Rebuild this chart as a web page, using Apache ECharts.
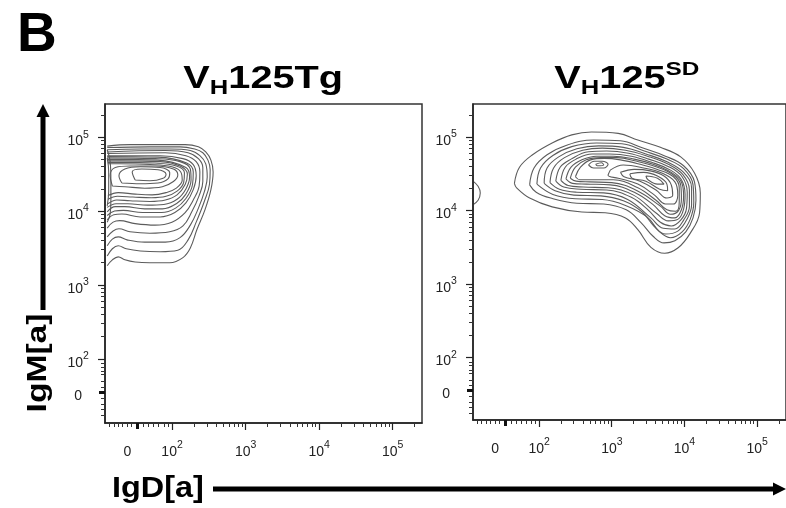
<!DOCTYPE html>
<html>
<head>
<meta charset="utf-8">
<script src="https://cdn.jsdelivr.net/npm/echarts@6/dist/echarts.min.js"></script>
<style>
  html, body { margin: 0; padding: 0; background: #fff; }
  #chart { width: 786px; height: 508px; }
</style>
</head>
<body>
<div id="chart"></div>
<script>
// axis values are in display decades (biexponential-like scale), "0" sits near 1.53
const xRange = [1.09, 5.40]
const yRangeLeft = [1.13, 5.45]
const yRangeRight = [1.15, 5.45]
const xMajorTicks = [1.53, 2, 3, 4, 5]
const yMajorTicks = [1.55, 2, 3, 4, 5]
const majorLabels = ['0', '10^2', '10^3', '10^4', '10^5']
const logDecades = [2, 3, 4, 5]
const xNearZeroTicks = [1.15, 1.21, 1.27, 1.33, 1.39, 1.45, 1.61, 1.68, 1.75, 1.82, 1.89, 1.95]
const yNearZeroTicks = [1.24, 1.32, 1.39, 1.47, 1.62, 1.69, 1.79, 1.83, 1.89, 1.94]

// VH125Tg contours (IgD, IgM)
const tg1 = [[1.12,3.26],[1.19,3.34],[1.27,3.38],[1.36,3.34],[1.50,3.31],[1.70,3.30],[1.97,3.30],[2.15,3.37],[2.25,3.50],[2.34,3.75],[2.45,4.02],[2.53,4.29],[2.56,4.53],[2.53,4.69],[2.46,4.80],[2.36,4.87],[2.18,4.90],[1.84,4.90],[1.43,4.90],[1.12,4.88]]
const tg2 = [[1.12,3.39],[1.19,3.49],[1.27,3.53],[1.38,3.49],[1.57,3.46],[1.84,3.45],[2.08,3.47],[2.22,3.61],[2.33,3.85],[2.44,4.13],[2.51,4.36],[2.52,4.56],[2.49,4.69],[2.42,4.79],[2.31,4.84],[2.11,4.87],[1.70,4.87],[1.12,4.86]]
const tg3 = [[1.12,3.53],[1.19,3.62],[1.27,3.65],[1.39,3.61],[1.63,3.58],[1.91,3.58],[2.11,3.64],[2.25,3.81],[2.36,4.04],[2.44,4.26],[2.48,4.46],[2.46,4.64],[2.38,4.75],[2.25,4.82],[1.97,4.84],[1.57,4.84],[1.12,4.83]]
const tg4 = [[1.12,3.65],[1.20,3.73],[1.28,3.76],[1.43,3.72],[1.70,3.70],[1.97,3.72],[2.15,3.80],[2.27,3.99],[2.37,4.21],[2.42,4.40],[2.42,4.59],[2.36,4.71],[2.22,4.79],[1.91,4.82],[1.12,4.80]]
const tg5 = [[1.12,3.77],[1.20,3.85],[1.29,3.87],[1.50,3.83],[1.77,3.81],[2.00,3.85],[2.18,3.98],[2.29,4.15],[2.37,4.34],[2.38,4.53],[2.33,4.67],[2.19,4.75],[1.91,4.79],[1.12,4.78]]
const tg6 = [[1.12,3.88],[1.21,3.95],[1.32,3.96],[1.57,3.92],[1.84,3.92],[2.04,3.98],[2.19,4.11],[2.29,4.29],[2.33,4.48],[2.29,4.63],[2.15,4.71],[1.84,4.75],[1.12,4.75]]
const tg6b = [[1.12,3.94],[1.22,4.00],[1.34,4.01],[1.60,3.98],[1.86,3.98],[2.05,4.04],[2.19,4.17],[2.28,4.36],[2.29,4.53],[2.20,4.65],[1.81,4.73],[1.12,4.74]]
const tg7 = [[1.12,3.99],[1.23,4.06],[1.36,4.06],[1.63,4.03],[1.87,4.03],[2.06,4.10],[2.19,4.23],[2.26,4.42],[2.25,4.57],[2.11,4.67],[1.77,4.71],[1.12,4.72]]
const tg7b = [[1.12,4.05],[1.24,4.10],[1.40,4.10],[1.67,4.08],[1.89,4.09],[2.07,4.16],[2.19,4.30],[2.24,4.46],[2.19,4.59],[1.81,4.69],[1.20,4.70],[1.12,4.70]]
const tg8 = [[1.13,4.10],[1.25,4.15],[1.43,4.14],[1.70,4.13],[1.91,4.15],[2.07,4.22],[2.18,4.36],[2.21,4.50],[2.11,4.61],[1.84,4.67],[1.29,4.68],[1.13,4.68]]
const tg8b = [[1.13,4.16],[1.26,4.20],[1.47,4.19],[1.72,4.18],[1.92,4.20],[2.07,4.27],[2.16,4.39],[2.17,4.52],[2.06,4.61],[1.77,4.65],[1.29,4.66],[1.13,4.66]]
const tg9 = [[1.13,4.21],[1.27,4.25],[1.50,4.23],[1.73,4.22],[1.92,4.25],[2.06,4.31],[2.14,4.42],[2.12,4.53],[2.00,4.60],[1.70,4.63],[1.29,4.64],[1.13,4.64]]
const tg10 = [[1.19,4.34],[1.36,4.33],[1.63,4.31],[1.87,4.33],[2.02,4.40],[2.08,4.49],[2.02,4.57],[1.77,4.61],[1.43,4.61],[1.23,4.59],[1.16,4.48],[1.19,4.34]]
const tg11 = [[1.32,4.38],[1.57,4.37],[1.81,4.38],[1.95,4.44],[1.97,4.52],[1.84,4.59],[1.57,4.60],[1.36,4.57],[1.28,4.48],[1.32,4.38]]
const tg12 = [[1.50,4.42],[1.70,4.41],[1.87,4.44],[1.92,4.50],[1.81,4.56],[1.59,4.57],[1.46,4.53],[1.50,4.42]]
const tgEdge1 = [[1.12,4.83],[1.16,4.67],[1.17,4.42],[1.17,4.15],[1.16,3.96],[1.12,3.85]]
const tgEdge2 = [[1.12,4.72],[1.14,4.53],[1.14,4.26],[1.12,4.07]]

// VH125SD contours
const sd1 = [[1.66,4.37],[1.73,4.59],[1.91,4.76],[2.18,4.92],[2.45,5.03],[2.72,5.07],[3.09,5.05],[3.36,4.96],[3.67,4.86],[3.95,4.73],[4.14,4.51],[4.22,4.24],[4.21,3.97],[4.08,3.69],[3.91,3.49],[3.73,3.42],[3.54,3.50],[3.36,3.74],[3.19,3.90],[2.91,3.97],[2.59,3.98],[2.18,4.05],[1.87,4.17],[1.69,4.31],[1.66,4.37]]
const sd2 = [[1.87,4.35],[1.93,4.58],[2.11,4.76],[2.38,4.89],[2.75,4.96],[3.12,4.95],[3.43,4.85],[3.74,4.74],[3.99,4.61],[4.14,4.39],[4.16,4.14],[4.12,3.90],[4.02,3.71],[3.87,3.59],[3.72,3.56],[3.57,3.65],[3.40,3.84],[3.20,4.01],[2.89,4.09],[2.52,4.10],[2.16,4.17],[1.96,4.25],[1.87,4.35]]
const sd2b = [[1.97,4.36],[2.02,4.58],[2.19,4.75],[2.45,4.87],[2.79,4.92],[3.14,4.91],[3.45,4.81],[3.76,4.70],[3.99,4.57],[4.12,4.35],[4.13,4.11],[4.08,3.88],[3.97,3.71],[3.81,3.63],[3.65,3.72],[3.49,3.91],[3.19,4.07],[2.87,4.15],[2.50,4.16],[2.19,4.22],[1.97,4.36]]
const sd3 = [[2.07,4.37],[2.11,4.58],[2.27,4.73],[2.52,4.84],[2.82,4.88],[3.16,4.86],[3.47,4.77],[3.77,4.66],[3.99,4.52],[4.10,4.31],[4.10,4.08],[4.03,3.87],[3.91,3.72],[3.74,3.68],[3.58,3.79],[3.42,3.98],[3.17,4.13],[2.85,4.20],[2.48,4.21],[2.22,4.27],[2.07,4.37]]
const sd3b = [[2.15,4.38],[2.20,4.58],[2.35,4.72],[2.60,4.82],[2.87,4.85],[3.19,4.82],[3.49,4.74],[3.78,4.63],[3.98,4.49],[4.07,4.28],[4.07,4.06],[3.99,3.87],[3.87,3.75],[3.71,3.76],[3.54,3.90],[3.22,4.15],[2.89,4.24],[2.52,4.25],[2.28,4.29],[2.15,4.38]]
const sd4 = [[2.23,4.40],[2.29,4.59],[2.44,4.70],[2.68,4.80],[2.93,4.81],[3.23,4.78],[3.51,4.70],[3.80,4.59],[3.97,4.46],[4.04,4.25],[4.03,4.03],[3.95,3.87],[3.82,3.79],[3.67,3.84],[3.50,4.01],[3.27,4.18],[2.93,4.28],[2.57,4.29],[2.34,4.32],[2.23,4.40]]
const sd4b = [[2.30,4.41],[2.36,4.59],[2.51,4.70],[2.73,4.77],[2.97,4.77],[3.27,4.74],[3.54,4.66],[3.81,4.55],[3.96,4.42],[4.01,4.22],[3.99,4.02],[3.91,3.88],[3.78,3.86],[3.62,3.96],[3.30,4.21],[2.95,4.31],[2.61,4.32],[2.40,4.34],[2.30,4.41]]
const sd5 = [[2.37,4.43],[2.44,4.59],[2.59,4.69],[2.79,4.74],[3.02,4.74],[3.31,4.70],[3.57,4.63],[3.82,4.52],[3.96,4.39],[3.99,4.20],[3.96,4.01],[3.87,3.90],[3.73,3.93],[3.57,4.08],[3.33,4.24],[2.98,4.35],[2.65,4.36],[2.46,4.37],[2.37,4.43]]
const sd5b = [[2.43,4.44],[2.50,4.59],[2.65,4.69],[2.85,4.72],[3.07,4.72],[3.35,4.67],[3.60,4.60],[3.84,4.49],[3.95,4.35],[3.96,4.16],[3.92,4.00],[3.81,3.95],[3.67,4.06],[3.35,4.27],[3.00,4.38],[2.70,4.39],[2.51,4.40],[2.43,4.44]]
const sd6 = [[2.50,4.46],[2.57,4.59],[2.71,4.69],[2.90,4.71],[3.12,4.69],[3.39,4.63],[3.63,4.56],[3.85,4.46],[3.93,4.31],[3.93,4.12],[3.88,3.99],[3.76,4.01],[3.61,4.14],[3.36,4.31],[3.02,4.42],[2.74,4.42],[2.56,4.42],[2.50,4.46]]
const sdA1 = [[2.68,4.62],[2.76,4.67],[2.87,4.67],[2.95,4.63],[2.89,4.58],[2.75,4.58],[2.68,4.62]]
const sdA2 = [[2.78,4.63],[2.86,4.65],[2.89,4.62],[2.80,4.61],[2.78,4.63]]
const sdB1 = [[2.98,4.55],[3.16,4.62],[3.44,4.58],[3.69,4.51],[3.87,4.39],[3.91,4.21],[3.85,4.09],[3.74,4.09],[3.59,4.21],[3.36,4.36],[3.09,4.44],[2.95,4.48],[2.98,4.55]]
const sdB2 = [[3.12,4.52],[3.31,4.56],[3.53,4.54],[3.72,4.47],[3.82,4.35],[3.84,4.21],[3.76,4.17],[3.61,4.28],[3.39,4.40],[3.17,4.46],[3.12,4.52]]
const sdB3 = [[3.25,4.50],[3.44,4.52],[3.63,4.47],[3.76,4.36],[3.77,4.27],[3.66,4.29],[3.47,4.40],[3.28,4.44],[3.25,4.50]]
const sdB4 = [[3.47,4.47],[3.63,4.44],[3.72,4.36],[3.63,4.36],[3.50,4.42],[3.47,4.47]]
const sdEdge = [[1.09,4.40],[1.16,4.33],[1.19,4.24],[1.16,4.14],[1.09,4.08]]

const tgContours = [tg1, tg2, tg3, tg4, tg5, tg6, tg6b, tg7, tg7b, tg8, tg8b, tg9, tg10, tg11, tg12, tgEdge1, tgEdge2]
const sdContours = [sd1, sd2, sd2b, sd3, sd3b, sd4, sd4b, sd5, sd5b, sd6, sdA1, sdA2, sdB1, sdB2, sdB3, sdB4, sdEdge]

const fontName = '"Liberation Sans", Arial, sans-serif'

function logMinorTicks(max) {
  const out = []
  logDecades.forEach((n) => {
    for (let k = 2; k <= 9; k++) {
      const u = n + Math.log10(k)
      if (u < max) out.push(u)
    }
  })
  return out
}

function labelText(major, v) {
  const i = major.findIndex((m) => Math.abs(m - v) < 1e-6)
  const t = majorLabels[i] || ''
  if (t.indexOf('^') > 0) {
    const p = t.split('^')
    return '{sp| }{b|' + p[0] + '}{s|' + p[1] + '}'
  }
  return '{sp| }{z|' + t + '}'
}

function richLabel(zeroShift) {
  return {
    sp: { fontSize: 1, lineHeight: 19 },
    b: { fontSize: 14, lineHeight: 12, verticalAlign: 'bottom', color: '#222', fontFamily: fontName },
    s: { fontSize: 10.5, lineHeight: 10, verticalAlign: 'top', color: '#222', fontFamily: fontName },
    z: { fontSize: 14, lineHeight: 12, verticalAlign: 'bottom', color: '#222', fontFamily: fontName, padding: [0, zeroShift, 0, 0] }
  }
}

// three stacked axes per side: major ticks + labels, minor ticks, bold zero tick
function makeAxes(dim, gridIndex, range, major, nearZero) {
  const isX = dim === 'x'
  const base = {
    gridIndex: gridIndex,
    type: 'value',
    min: range[0],
    max: range[1],
    position: isX ? 'bottom' : 'left',
    splitLine: { show: false },
    z: 5
  }
  const minor = logMinorTicks(range[1]).concat(nearZero)
  return [
    Object.assign({}, base, {
      axisLine: { show: true, onZero: false, lineStyle: { color: '#222', width: 1.5 } },
      axisTick: { show: true, customValues: major.slice(1), length: 7, lineStyle: { color: '#222', width: 1.2 } },
      axisLabel: {
        show: true,
        customValues: major,
        margin: isX ? 17 : 27,
        align: 'center',
        padding: isX ? 0 : [3, 0, 0, 0],
        formatter: (v) => labelText(major, v),
        rich: richLabel(isX ? 20 : 0)
      }
    }),
    Object.assign({}, base, {
      axisLine: { show: false },
      axisTick: { show: true, customValues: minor, length: 4, lineStyle: { color: '#333', width: 1 } },
      axisLabel: { show: false }
    }),
    Object.assign({}, base, {
      axisLine: { show: false },
      axisTick: { show: true, customValues: [major[0]], length: 6, lineStyle: { color: '#111', width: 3 } },
      axisLabel: { show: false }
    })
  ]
}

function contourSeries(list, axisIndex) {
  return list.map((c) => ({
    type: 'line',
    xAxisIndex: axisIndex,
    yAxisIndex: axisIndex,
    data: c,
    smooth: 0.4,
    symbol: 'none',
    silent: true,
    lineStyle: { color: '#5c5c5c', width: 1.1 }
  }))
}

const titleRich = {
  sp: { fontSize: 1, lineHeight: 38 },
  a: { fontSize: 31, fontWeight: 'bold', lineHeight: 26, verticalAlign: 'middle', fontFamily: fontName, color: '#000' },
  h: { fontSize: 20, fontWeight: 'bold', lineHeight: 18, verticalAlign: 'bottom', fontFamily: fontName, color: '#000' },
  u: { fontSize: 19, fontWeight: 'bold', lineHeight: 18, verticalAlign: 'top', fontFamily: fontName, color: '#000' }
}

const myChart = echarts.init(document.getElementById('chart'), null, { renderer: 'canvas' })
const option = {
  animation: false,
  backgroundColor: '#fff',
  grid: [
    { left: 105, top: 104, width: 317, height: 319, show: true, borderColor: '#333', borderWidth: 1.5, backgroundColor: 'transparent' },
    { left: 473, top: 104, width: 317, height: 316, show: true, borderColor: '#333', borderWidth: 1.5, backgroundColor: 'transparent' }
  ],
  xAxis: makeAxes('x', 0, xRange, xMajorTicks, xNearZeroTicks).concat(makeAxes('x', 1, xRange, xMajorTicks, xNearZeroTicks)),
  yAxis: makeAxes('y', 0, yRangeLeft, yMajorTicks, yNearZeroTicks).concat(makeAxes('y', 1, yRangeRight, yMajorTicks, yNearZeroTicks)),
  series: contourSeries(tgContours, 0).concat(contourSeries(sdContours, 3)),
  graphic: [
    { type: 'text', x: 17, y: 8, style: { text: 'B', font: 'bold 55px ' + fontName, fill: '#000' } },
    { type: 'text', x: 183, y: 60, scaleX: 1.28, style: { text: '{sp| }{a|V}{h|H}{a|125Tg}', rich: titleRich, textVerticalAlign: 'top' } },
    { type: 'text', x: 554, y: 60, scaleX: 1.28, style: { text: '{sp| }{a|V}{h|H}{a|125}{u|SD}', rich: titleRich, textVerticalAlign: 'top' } },
    { type: 'text', x: 38, y: 363, rotation: Math.PI / 2, scaleX: 1.2, style: { text: 'IgM[a]', font: 'bold 28px ' + fontName, fill: '#000', textAlign: 'center', textVerticalAlign: 'middle' } },
    { type: 'line', shape: { x1: 43, y1: 310, x2: 43, y2: 114 }, style: { stroke: '#000', lineWidth: 5 } },
    { type: 'polygon', shape: { points: [[43, 104], [36.5, 117], [49.5, 117]] }, style: { fill: '#000' } },
    { type: 'text', x: 112, y: 489, scaleX: 1.08, style: { text: 'IgD[a]', font: 'bold 30px ' + fontName, fill: '#000', textAlign: 'left', textVerticalAlign: 'middle' } },
    { type: 'line', shape: { x1: 213, y1: 489, x2: 776, y2: 489 }, style: { stroke: '#000', lineWidth: 5 } },
    { type: 'polygon', shape: { points: [[786, 489], [773, 482.5], [773, 495.5]] }, style: { fill: '#000' } }
  ]
}
myChart.setOption(option)
</script>
</body>
</html>
